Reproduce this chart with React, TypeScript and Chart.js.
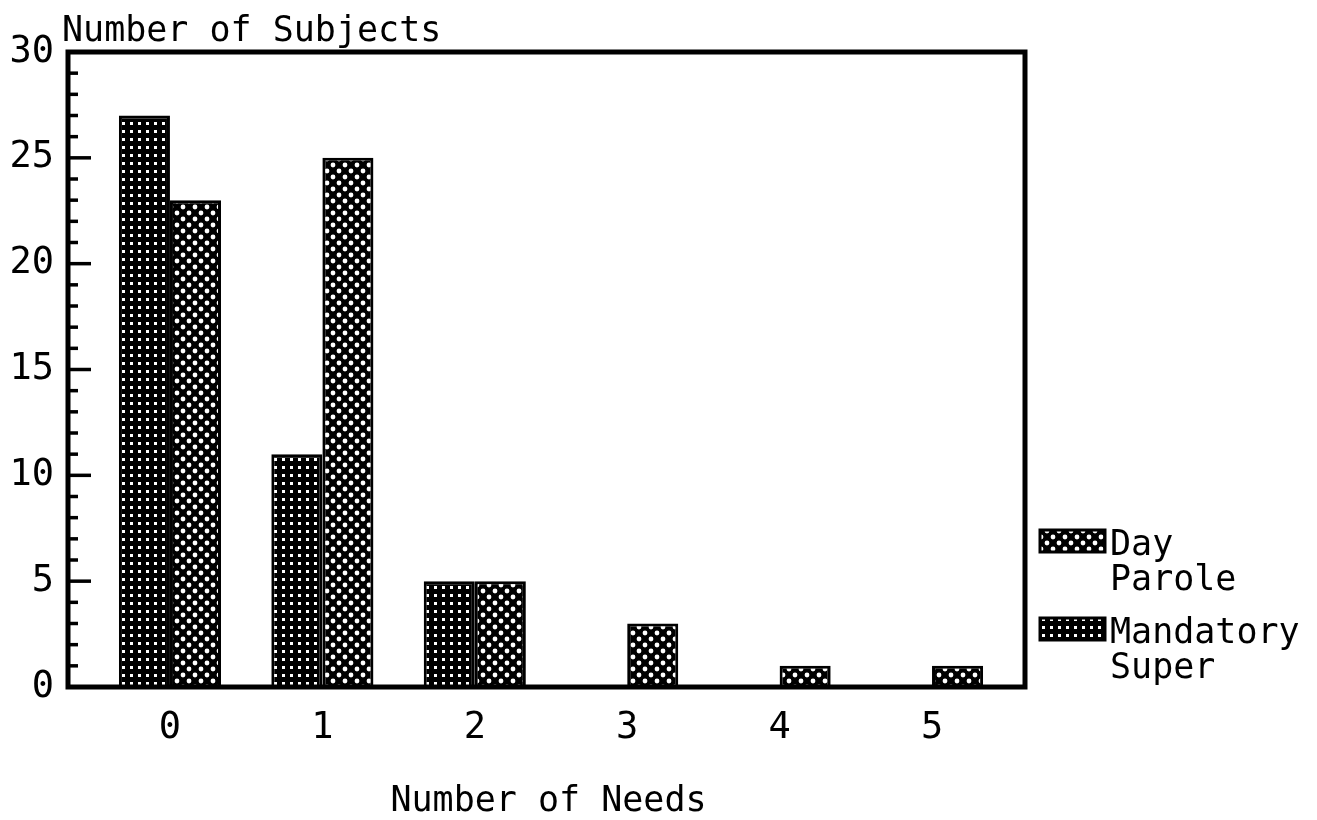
import React, { useEffect, useRef } from "react";
import { Chart, registerables } from "chart.js";

Chart.register(...registerables);

const categories = [0, 1, 2, 3, 4, 5];
const mandatorySuper = [27, 11, 5, 0, 0, 0];
const dayParole = [23, 25, 5, 3, 1, 1];
const yTicks = [0, 5, 10, 15, 20, 25, 30];
const legendItems = [
  { lines: ["Day", "Parole"], pattern: "diamond" },
  { lines: ["Mandatory", "Super"], pattern: "grid" },
];
const yTitle = "Number of Subjects";
const xTitle = "Number of Needs";

const FONT = "'DejaVu Sans Mono', 'Liberation Mono', monospace";

function makeGridPattern(ctx: CanvasRenderingContext2D) {
  const t = document.createElement("canvas");
  t.width = 8;
  t.height = 8;
  const c = t.getContext("2d")!;
  c.fillStyle = "#000";
  c.fillRect(0, 0, 8, 8);
  c.fillStyle = "#fff";
  c.fillRect(2, 2, 3, 3);
  return ctx.createPattern(t, "repeat")!;
}

function makeDiamondPattern(ctx: CanvasRenderingContext2D) {
  const t = document.createElement("canvas");
  t.width = 12;
  t.height = 12;
  const c = t.getContext("2d")!;
  c.fillStyle = "#000";
  c.fillRect(0, 0, 12, 12);
  c.fillStyle = "#fff";
  c.beginPath();
  c.arc(3, 3, 2.4, 0, Math.PI * 2);
  c.closePath();
  c.moveTo(11.4, 9);
  c.arc(9, 9, 2.4, 0, Math.PI * 2);
  c.closePath();
  c.fill();
  return ctx.createPattern(t, "repeat")!;
}

export default function App() {
  const ref = useRef<HTMLCanvasElement | null>(null);

  useEffect(() => {
    const canvas = ref.current!;
    const ctx = canvas.getContext("2d")!;
    const grid = makeGridPattern(ctx);
    const diamond = makeDiamondPattern(ctx);
    const patterns: Record<string, CanvasPattern> = { grid, diamond };

    const framePlugin = {
      id: "frame",
      afterDatasetsDraw(chart: any) {
        const { ctx: c, chartArea: a, scales } = chart;
        const y = scales.y;
        c.save();
        c.strokeStyle = "#000";
        c.lineCap = "butt";
        c.lineWidth = 3.5;
        for (let v = 1; v < 30; v++) {
          const py = y.getPixelForValue(v);
          const len = v % 5 === 0 ? 23 : 10;
          c.beginPath();
          c.moveTo(a.left, py);
          c.lineTo(a.left + len, py);
          c.stroke();
        }
        c.lineWidth = 5;
        c.strokeRect(a.left, a.top, a.right - a.left, a.bottom - a.top);
        c.restore();
      },
      afterDraw(chart: any) {
        const { ctx: c, chartArea: a } = chart;
        c.save();
        c.fillStyle = "#000";
        c.font = `35px ${FONT}`;
        c.textBaseline = "alphabetic";
        c.textAlign = "left";
        c.fillText(yTitle, a.left - 6, 41);
        c.textAlign = "center";
        c.fillText(xTitle, (a.left + a.right) / 2 + 2, 811);
        c.textAlign = "left";
        const sx = a.right + 15;
        const sw = 65;
        const sh = 22;
        const tops = [a.bottom - 157, a.bottom - 69];
        legendItems.forEach((it, i) => {
          const top = tops[i];
          c.fillStyle = patterns[it.pattern];
          c.fillRect(sx, top, sw, sh);
          c.strokeStyle = "#000";
          c.lineWidth = 3;
          c.strokeRect(sx, top, sw, sh);
          c.fillStyle = "#000";
          it.lines.forEach((ln, j) => {
            c.fillText(ln, sx + sw + 5, top + 25 + j * 35);
          });
        });
        c.restore();
      },
    };

    const chart = new Chart(canvas, {
      type: "bar",
      data: {
        datasets: [
          {
            label: "Mandatory Super",
            data: categories.map((x, i) => ({ x, y: mandatorySuper[i] })),
            backgroundColor: grid,
            borderColor: "#000",
            borderWidth: 3,
          },
          {
            label: "Day Parole",
            data: categories.map((x, i) => ({ x, y: dayParole[i] })),
            backgroundColor: diamond,
            borderColor: "#000",
            borderWidth: 3,
          },
        ],
      },
      options: {
        animation: false,
        responsive: true,
        maintainAspectRatio: false,
        datasets: { bar: { categoryPercentage: 0.67, barPercentage: 1.0 } },
        layout: { padding: { top: 52, right: 292, left: 0, bottom: 0 } },
        plugins: {
          legend: { display: false },
          tooltip: { enabled: false },
        },
        scales: {
          x: {
            type: "linear",
            min: -0.669,
            max: 5.61,
            offset: false,
            grid: { display: false, drawTicks: false },
            border: { display: false },
            afterBuildTicks: (s: any) => {
              s.ticks = categories.map((v) => ({ value: v }));
            },
            afterFit: (s: any) => {
              s.height = 133;
            },
            ticks: {
              color: "#000",
              font: { family: FONT, size: 37 },
              padding: 19,
              autoSkip: false,
              maxRotation: 0,
              callback: (v: any) => String(v),
            },
          },
          y: {
            min: 0,
            max: 30,
            grid: { display: false, drawTicks: false },
            border: { display: false },
            afterBuildTicks: (s: any) => {
              s.ticks = yTicks.map((v) => ({ value: v }));
            },
            afterFit: (s: any) => {
              s.width = 68;
            },
            ticks: {
              color: "#000",
              font: { family: FONT, size: 37 },
              padding: 14,
            },
          },
        },
      },
      plugins: [framePlugin],
    });
    return () => chart.destroy();
  }, []);

  return (
    <div
      style={{
        position: "fixed",
        left: 0,
        top: 0,
        width: 1317,
        height: 820,
        background: "#fff",
      }}
    >
      <canvas ref={ref} />
    </div>
  );
}
